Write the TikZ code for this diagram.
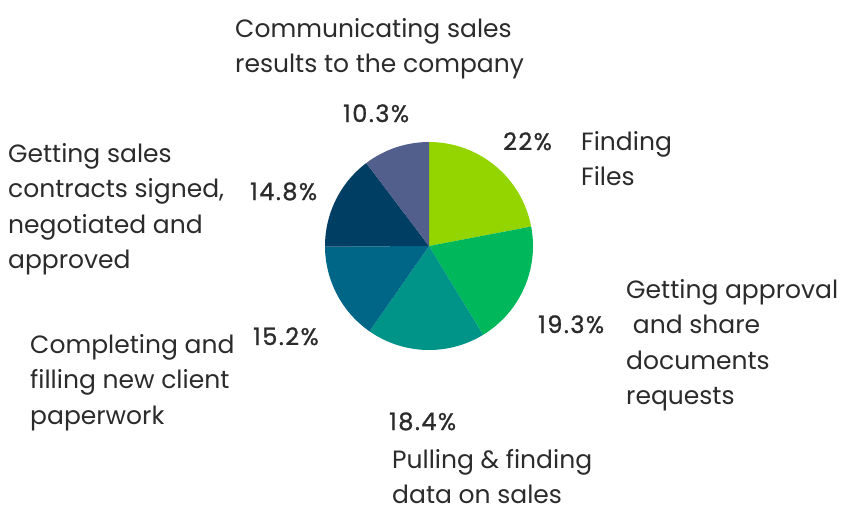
\documentclass[tikz,border=0pt]{standalone}
\usepackage{fontspec}
\setmainfont{Poppins}
\newfontfamily\pctfont[LetterSpace=6, BoldFont={Poppins}, BoldFeatures={FakeBold=1, LetterSpace=6}]{Poppins}

\definecolor{lime}{HTML}{94D500}
\definecolor{grass}{HTML}{00B85C}
\definecolor{teal2}{HTML}{009488}
\definecolor{ocean}{HTML}{006688}
\definecolor{navy2}{HTML}{003E64}
\definecolor{slate}{HTML}{525E8C}
\definecolor{ink}{HTML}{2B2B2B}

\tikzset{lbl/.style={anchor=base west, inner sep=0pt, align=left, text=ink, font=\fontsize{25}{35.5}\selectfont}}
\tikzset{pct/.style={anchor=base west, inner sep=0pt, text=ink, font=\fontsize{24}{28}\selectfont\pctfont\bfseries}}

\begin{document}
\begin{tikzpicture}[x=1pt,y=1pt]
    \useasboundingbox (0,0) rectangle (848,-517);
    \coordinate (c) at (429,-246);

    % slices, clockwise from the top
    \foreach \a/\b/\col in {90/10.8/lime, 10.8/-58.68/grass, -58.68/-124.92/teal2,
                            -124.92/-179.64/ocean, -179.64/-232.92/navy2, -232.92/-270/slate}
        \fill[\col] (c) -- ++(\a:104) arc[start angle=\a, end angle=\b, radius=104] -- cycle;

    \node[pct] (p1) at (503,-150) {22\%};
    \node[pct] (p2) at (538,-333) {19.3\%};
    \node[pct] (p3) at (389,-430) {18.4\%};
    \node[pct] (p4) at (253,-345) {15.2\%};
    \node[pct] (p5) at (250,-200) {14.8\%};
    \node[pct] (p6) at (343,-122) {10.3\%};

    % labels: base anchor sits on the last line
    \node[lbl] (l1) at (581,-185.5) {Finding\\Files};
    \node[lbl] (l2) at (626,-404.5) {Getting approval\\\ and share\\documents\\requests};
    \node[lbl] (l3) at (392,-503.5) {Pulling \& finding\\data on sales};
    \node[lbl] (l4) at (30,-424) {Completing and\\filling new client\\paperwork};
    \node[lbl] (l5) at (8,-268.5) {Getting sales\\contracts signed,\\negotiated and\\approved};
    \node[lbl] (l6) at (235,-72.5) {Communicating sales\\results to the company};
\end{tikzpicture}
\end{document}
